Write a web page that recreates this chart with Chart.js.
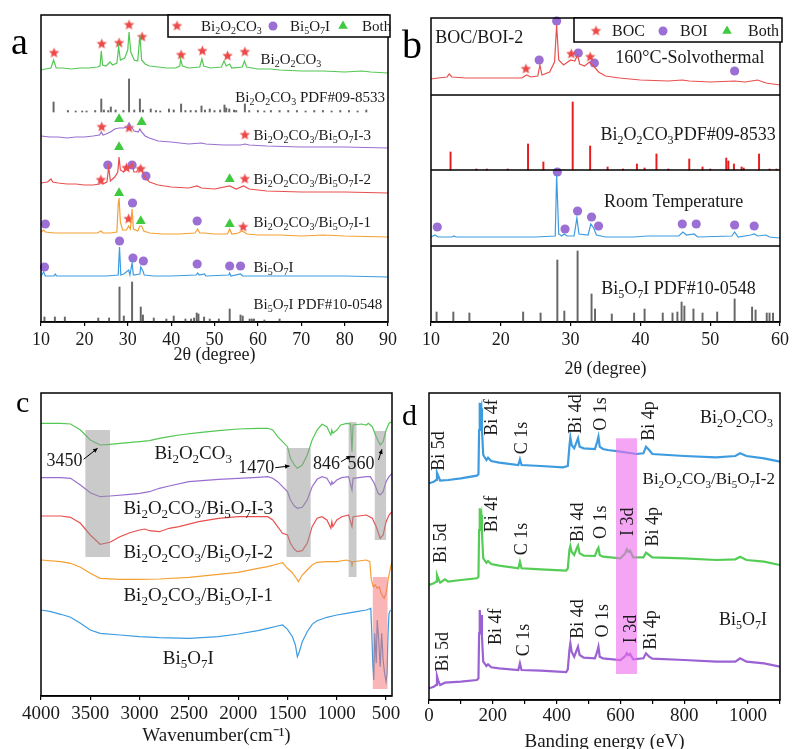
<!DOCTYPE html>
<html>
<head>
<meta charset="utf-8">
<title>Bi2O2CO3 / Bi5O7I characterisation</title>
<script src="https://cdn.jsdelivr.net/npm/chart.js@4.4.1/dist/chart.umd.min.js"></script>
<style>
  body { margin: 0; width: 792px; height: 749px; overflow: hidden; background: #fff; position: relative; }
  canvas { position: absolute; }
</style>
</head>
<body>
<canvas id="chart-a" width="400" height="380" style="left:0;top:0"></canvas>
<canvas id="chart-b" width="392" height="380" style="left:400px;top:0"></canvas>
<canvas id="chart-c" width="400" height="380" style="left:0;top:380px"></canvas>
<canvas id="chart-d" width="392" height="380" style="left:400px;top:380px"></canvas>
<script>
const SERIF = '"Liberation Serif", "Times New Roman", serif';

// ---------- (a) XRD of the series, stacked offsets ----------
const xrdBOC = [[10,252],[11,253],[12.3,254],[12.9,262],[13.5,254],[15,254],[17,253],[19,254],[21,254],[23,255],[23.6,256],[23.9,271],[24.2,257],[25,256],[25.9,260],[26.5,257],[27.5,259],[27.9,275],[28.3,262],[29.3,264],[30.0,272],[30.3,290],[30.7,270],[31.5,262],[32.3,261],[32.8,287],[33.2,262],[34,258],[35,256],[37,255],[39,254],[41,254],[42,256],[42.2,263],[42.6,256],[44,254],[46.6,255],[47.1,263],[47.5,256],[49,254],[51.6,255],[52.2,261],[52.7,256],[53.5,258],[54,254],[56.4,255],[56.9,261],[57.4,255],[60,253],[63,253],[65,252],[70,251],[75,251],[80,250],[84,251],[86,250],[90,249]];
const pdfBOC_A = [[12.9,10],[16.2,1.5],[18,1],[19.5,1],[20.5,1],[22.5,1.5],[23.9,13],[24.5,2],[25.5,1.5],[26.1,5],[27.2,2],[29,1.5],[30.3,33],[31.5,2],[32.8,13],[33.5,2],[35.3,3],[36.5,1.5],[37.5,1],[39.5,3],[40.6,2],[42.3,8],[43.3,1.5],[44.5,1.5],[45.7,1.5],[47.0,6],[47.8,2],[48.9,3],[50,1.5],[51.3,2],[52.3,7],[52.7,4],[53.4,3],[54.5,2],[55,1.5],[57.0,8],[58,1.5],[60,1.5],[61.5,1],[63,1.5],[65,1.5],[67,1.5],[69,1.5],[71,1],[73,1.5],[75,1.5],[77,1],[79,1.5],[81,1.5],[83,1],[85,2]];
const xrdBB3 = [[10,186],[12,185],[14,185],[16,184],[18,185],[20,185],[22,186],[23.5,187],[23.9,190],[24.3,187],[25,188],[26,190],[27,193],[28,194],[29,194],[29.8,195],[30.3,199],[30.8,195],[31.5,191],[32.4,190],[32.8,193],[33.2,190],[34,186],[35,184],[37,181],[40,180],[44,178],[47,179],[48,178],[52,177],[56,177],[57,178],[58,177],[62,176],[70,175],[80,175],[90,174]];
const xrdBB2 = [[10,139],[11.5,140],[12.3,143],[12.7,140],[14,139],[16,138],[18,138],[20,137],[22,137],[23.5,138],[23.8,140],[24.2,138],[25.2,140],[25.6,155],[26,141],[27,145],[27.7,150],[28.0,165],[28.3,152],[29,150],[29.8,154],[30.4,154],[31.0,159],[31.4,150],[32.0,150],[32.7,155],[33.3,151],[34,144],[35,140],[37,137],[40,135],[44,134],[46,136],[47,134],[50,133],[53.5,136],[55,133],[56.7,136],[58,133],[62,131],[70,130],[80,130],[90,129]];
const xrdBB1 = [[10,90],[10.6,92],[11,90],[13,89],[16,89],[20,89],[23,89],[23.8,91],[24.3,89],[26,89],[27.5,90],[27.8,118],[28.0,124],[28.3,100],[28.8,92],[29.7,92],[30.2,96],[30.6,93],[31.0,113],[31.3,93],[32.3,91],[32.8,96],[33.2,96],[33.7,91],[35,89],[38,88],[42,88],[45.5,89],[46.1,93],[46.6,89],[47.6,89],[50,88],[53,88],[53.5,93],[54,88],[55.5,89],[56.4,91],[57.5,88],[60,87],[65,87],[70,86],[75,87],[80,86],[90,85]];
const xrdBOI = [[10,46],[10.6,50],[11,46],[13,46],[13.3,48],[13.6,46],[16,46],[20,46],[23,46],[25,46],[27.8,47],[28.1,75],[28.4,47],[29.1,48],[30.2,52],[30.5,47],[31.0,59],[31.3,47],[32.8,48],[33.0,55],[33.5,51],[33.8,47],[36,46],[40,46],[45.8,47],[46.1,49],[46.5,47],[47.7,48],[48,46],[53.3,47],[53.5,49],[53.8,46],[56,48],[56.5,46],[60,46],[70,46],[80,46],[90,45]];
const pdfBOI_A = [[10.8,5],[13.2,5],[15.5,5],[23.2,4],[25.7,4],[28.1,35],[29.1,6],[31.0,40],[33.0,15],[33.5,7],[36,4],[38.9,3],[40.6,6],[43.3,3],[44.6,3],[45.3,4],[45.9,9],[46.3,8],[47.6,5],[48.9,3],[51,3],[53.5,13],[56.0,7],[56.5,6],[58.1,3],[58.6,3],[59.1,3],[61.5,2],[65,3]];
const starsA = [[13,269],[24,278],[28,279],[30.3,297],[33.3,285],[42.3,267],[47.2,271],[53,266],[57,270],[24,195],[30.3,194],[57,187],[23.8,142],[29.7,154],[33,153],[57,143],[30.2,103],[56.6,95]];
const circlesA = [[25.4,157],[31,157],[34.2,146],[11,98],[31.1,119],[46,101],[10.8,55],[28.1,81],[31.2,64],[33.6,61],[46,58],[53.5,56],[56,56]];
const trianglesA = [[28,203],[33.2,200],[28,175],[53.5,143],[28,129],[33,101],[53.5,98]];

// ---------- (b) solvothermal vs room temperature ----------
const xrdSolvo = [[10,243],[11,244],[12.3,245],[12.6,248],[13,245],[15,244],[17,244],[19,244],[21,244],[23,244],[23.7,247],[24.3,245],[25.3,246],[25.6,257],[25.9,247],[27,250],[27.7,260],[28.0,297],[28.3,262],[29,257],[30,262],[30.6,261],[31.0,267],[31.3,258],[32.0,256],[32.7,260],[33.3,256],[34,250],[35,246],[37,244],[40,242],[44,241],[46,242],[47,241],[50,240],[53.5,241],[55,240],[56.8,242],[58,239],[60,237]];
const pdfBOC_B = [[12.8,18],[16.5,1],[18,1],[21,1],[23.9,26],[26.1,8],[30.3,68],[32.8,24],[35.3,3],[37.5,1],[39.5,6],[40.6,2],[42.3,16],[44,1],[47.0,11],[48.9,3],[50,1],[52.3,12],[52.6,9],[53.4,6],[54.5,3],[54.8,2],[57.0,16],[58.5,1],[59.5,1]];
const xrdRoomT = [[10,85],[10.6,87],[11,85],[13,85],[13.3,86],[13.6,85],[16,85],[20,85],[23,85],[25,85],[27.8,86],[28.0,147],[28.3,88],[28.7,86],[29.1,88],[29.5,86],[30.5,86],[30.9,104],[31.2,88],[32.5,87],[32.9,98],[33.3,94],[33.7,87],[35,85],[39,85],[41,86],[45.5,86],[46.1,90],[46.6,87],[47.7,88],[48.2,85],[53.1,86],[53.5,90],[54,85],[55.8,87],[56.3,88],[56.8,86],[58,87],[58.5,85],[60,84]];
const pdfBOI_B = [[10.8,10],[13.2,10],[15.5,9],[23.2,10],[25.7,9],[28.1,62],[29.1,11],[31.0,71],[33.0,28],[33.5,13],[35.9,8],[39.1,9],[40.6,13],[43.2,9],[44.6,9],[45.3,10],[45.9,20],[46.3,16],[47.6,13],[48.9,9],[51,10],[53.5,23],[56.0,15],[56.5,12],[58.1,9],[58.5,9],[59,9]];
const starsB = [[23.6,253],[30.1,268],[32.8,265]];
const circlesB = [[25.5,262],[28,301],[31.1,269],[33.4,259],[53.5,251],[10.9,95],[28.1,150],[29.2,93],[31,111],[33,105],[34,96],[46,98],[48,98],[53.5,97],[56.3,96]];

// ---------- (c) FTIR ----------
const irBOC = [[4000,272.7],[3800,272.7],[3700,272],[3600,266],[3500,256],[3400,251],[3300,251.7],[3200,252.7],[3000,254.3],[2900,255.3],[2800,257.7],[2700,259.3],[2600,261],[2400,263.3],[2200,265.3],[2000,267],[1800,267.7],[1700,267.7],[1650,266],[1600,259.3],[1550,254.3],[1500,249.3],[1470,237.7],[1430,231],[1400,227.7],[1350,231],[1300,241],[1250,256],[1200,266],[1150,271.7],[1100,269.3],[1070,262.7],[1060,261],[1050,266],[1040,262.7],[1000,266],[960,271],[900,272.7],[860,272],[846,244.3],[835,271],[750,272],[700,271],[680,272.7],[640,269.3],[600,259.3],[560,251],[530,254.3],[500,266],[470,272.7],[440,274.3]];
const irBB3 = [[4000,218.3],[3800,218.3],[3700,217.7],[3600,211],[3500,203.3],[3400,199.3],[3300,200],[3100,201.7],[3000,202.7],[2900,204.3],[2800,207.7],[2700,210],[2500,214.3],[2200,216.7],[2000,217.7],[1800,218.7],[1700,219.3],[1650,217.7],[1600,214.3],[1550,209.3],[1500,204.3],[1470,196],[1430,190],[1400,187.7],[1350,188.7],[1300,196],[1250,209.3],[1200,216.7],[1150,219.3],[1100,217.7],[1060,211],[1050,214.3],[1040,212],[1000,216],[950,218.3],[880,219.3],[846,206],[835,217.7],[700,219.3],[660,219.3],[620,212.7],[580,202.7],[560,201],[530,204.3],[500,214.3],[470,219.3],[440,222.7]];
const irBB2 = [[4000,180],[3800,180],[3700,178.7],[3600,172.7],[3500,161],[3400,151.7],[3300,153.7],[3200,159.3],[3100,163.3],[3000,166],[2950,167],[2900,165.3],[2800,164.3],[2700,167.7],[2600,169.3],[2400,174.3],[2200,177.7],[2000,179.3],[1700,179.3],[1650,176],[1600,169.3],[1550,162.7],[1500,161],[1470,152.7],[1430,146.7],[1400,144.3],[1350,145.3],[1300,152.7],[1250,169.3],[1200,177.7],[1150,179.3],[1100,176],[1060,167.7],[1050,174.3],[1040,169.3],[1000,176],[950,179.3],[880,181],[846,169.3],[835,179.3],[700,181],[640,177.7],[600,169.3],[560,157.7],[530,161],[500,174.3],[470,181],[440,184.3]];
const irBB1 = [[4000,136],[3800,134.3],[3700,132.7],[3600,128.7],[3500,122.7],[3400,117.7],[3200,116.7],[3000,116.7],[2800,117],[2500,118.7],[2200,121.7],[2000,123.7],[1800,127.7],[1700,129.3],[1600,132],[1550,133.3],[1500,127.7],[1450,123.3],[1400,116],[1390,114.3],[1350,121],[1300,126],[1250,131],[1200,133.7],[1100,134.3],[1000,134.3],[900,136],[850,134.3],[846,129.3],[840,134.3],[700,136],[665,134.3],[650,116],[630,109.3],[610,111],[590,107.7],[570,109.3],[550,102.7],[520,97.7],[500,102.7],[480,116],[460,126],[440,134.3]];
const irBOI = [[4000,86],[3900,84.3],[3800,81.7],[3700,78.7],[3600,72.7],[3500,66],[3400,62.7],[3200,61],[3000,59.3],[2800,58.3],[2500,57.7],[2200,59.3],[2000,62],[1800,65.3],[1700,67.7],[1600,70],[1550,71],[1500,66.7],[1450,59.3],[1420,51],[1400,39.3],[1380,44.3],[1350,54.3],[1300,64.3],[1250,71.7],[1200,75.3],[1100,78.7],[1000,81],[900,82.7],[800,84.3],[700,86],[655,87.7],[645,62.7],[635,32.7],[625,16],[615,62.7],[600,32.7],[590,76],[575,56],[560,29.3],[545,62.7],[530,36],[515,22.7],[500,14.3],[490,22.7],[480,62.7],[470,82.7],[455,86]];

// ---------- (d) XPS survey ----------
const xpsBOC = [[0,216.7],[15,218.3],[22,220],[25,227.3],[30,223.3],[35,219.3],[60,220],[100,221.7],[150,224.3],[155,225.7],[157,270],[159,297.3],[161,286.7],[164,291.7],[166,270],[170,245],[180,240],[185,242.3],[195,239],[220,237.3],[280,235],[285,240.7],[290,235],[350,234],[420,232.7],[435,234],[440,253.3],[443,262.7],[447,255],[455,251.7],[463,258.3],[467,261.7],[472,253.3],[485,251.7],[520,251],[527,258.3],[531,263.3],[535,253.3],[545,251],[560,250],[600,248.3],[650,246],[672,246.7],[680,253.3],[690,250],[700,246],[800,244],[900,242.7],[960,244],[975,246.7],[995,244],[1050,241.7],[1100,238.3]];
const xpsBB2 = [[0,115],[15,116.7],[22,118.3],[25,125],[30,120.7],[35,117.3],[50,120.7],[60,118.3],[100,120],[150,121.7],[155,123.3],[157,170],[159,191.7],[161,180],[164,185],[166,166.7],[170,141.7],[180,137.3],[185,139],[195,136],[220,134.3],[280,131.7],[285,138.3],[290,131.7],[350,130.7],[430,129.3],[435,131.7],[440,150],[443,154],[447,148.3],[455,145],[463,151.7],[467,154.3],[472,146.7],[485,144.3],[520,144],[527,150],[531,152.3],[535,145],[545,143.3],[600,141.7],[615,146.7],[620,150.7],[625,148.3],[630,149.3],[640,142.7],[672,142.7],[680,147.3],[690,145],[700,142.7],[800,141.7],[900,140],[960,140.7],[975,143.3],[995,140],[1050,138.3],[1100,135]];
const xpsBOI = [[0,11.7],[15,13.3],[22,15],[25,24],[30,18.3],[35,15],[50,17.3],[100,18.3],[150,20],[155,21.7],[157,66.7],[159,90],[161,76.7],[164,85],[166,63.3],[170,38.3],[180,34],[185,35.7],[195,32.7],[220,31.7],[280,30],[285,36.7],[290,30],[350,29.3],[430,28],[435,30.7],[440,50],[443,56.7],[447,48.3],[455,43.3],[463,50],[467,53.3],[472,45],[485,42.3],[520,41.7],[527,48.3],[531,53.3],[535,43.3],[545,41.7],[600,40],[615,44],[620,46.7],[625,44.7],[630,46],[640,40.7],[672,41.7],[680,46.7],[690,43.3],[700,41.3],[800,40],[900,38.3],[960,38.3],[975,41.7],[995,38.3],[1050,36.7],[1100,33.3]];

const C = {
  green: '#54c854', purple: '#9a6fd0', red: '#e8504f', orange: '#f5a033', blue: '#3d9be0',
  stick: '#666666', stickRed: '#e81c1c', star: '#ec4a4a', dot: '#9b6fd4', tri: '#3fc93f', ink: '#1a1a1a'
};

Chart.defaults.font.family = SERIF;

// filled five-point star used as a point style
function starImage(color, r) {
  const c = document.createElement('canvas');
  const s = Math.ceil(r * 2 + 2);
  c.width = c.height = s;
  const g = c.getContext('2d');
  g.fillStyle = color;
  g.beginPath();
  for (let i = 0; i < 10; i++) {
    const rad = i % 2 ? r * 0.45 : r;
    const a = -Math.PI / 2 + i * Math.PI / 5;
    g.lineTo(s / 2 + rad * Math.cos(a), s / 2 + rad * Math.sin(a));
  }
  g.closePath();
  g.fill();
  return c;
}
const STAR = starImage(C.star, 5.5);

const pts = arr => arr.map(([x, y]) => ({ x, y }));
const sticks = (arr, base) => arr.map(([x, h]) => ({ x, y: [base, base + h] }));

function lineSet(data, color, width) {
  return { type: 'line', data: pts(data), borderColor: color, borderWidth: width || 1.2,
           pointRadius: 0, tension: 0, fill: false };
}
function stickSet(data, base, color) {
  return { type: 'bar', data: sticks(data, base), backgroundColor: color,
           barThickness: 1.3, grouped: false };
}
function markerSet(data, kind) {
  const ds = { type: 'scatter', data: pts(data), clip: false, borderWidth: 0 };
  if (kind === 'star') Object.assign(ds, { pointStyle: STAR, pointRadius: 5.5 });
  if (kind === 'circle') Object.assign(ds, { pointStyle: 'circle', pointRadius: 4.6, backgroundColor: C.dot });
  if (kind === 'triangle') Object.assign(ds, { pointStyle: 'triangle', pointRadius: 5.8, backgroundColor: C.tri });
  return ds;
}

// text with _x subscripts and ^x superscripts, y is the middle of the capitals
function drawRich(ctx, str, x, y, size, align) {
  const parts = [];
  for (let i = 0; i < str.length; i++) {
    const ch = str[i];
    if ((ch === '_' || ch === '^') && i + 1 < str.length) { parts.push({ t: str[i + 1], k: ch }); i++; }
    else if (parts.length && !parts[parts.length - 1].k) parts[parts.length - 1].t += ch;
    else parts.push({ t: ch, k: '' });
  }
  const small = Math.round(size * 0.66);
  ctx.save();
  ctx.fillStyle = C.ink;
  ctx.textBaseline = 'alphabetic';
  ctx.textAlign = 'left';
  let w = 0;
  parts.forEach(p => { ctx.font = `${p.k ? small : size}px ${SERIF}`; p.w = ctx.measureText(p.t).width; w += p.w; });
  let cx = align === 'center' ? x - w / 2 : align === 'right' ? x - w : x;
  const base = y + size * 0.33;
  parts.forEach(p => {
    ctx.font = `${p.k ? small : size}px ${SERIF}`;
    const dy = p.k === '_' ? size * 0.22 : p.k === '^' ? -size * 0.38 : 0;
    ctx.fillText(p.t, cx, base + dy);
    cx += p.w;
  });
  ctx.restore();
}

function decor(spec) {
  return {
    id: 'decor',
    afterDraw(chart) {
      const ctx = chart.ctx, a = chart.chartArea;
      const X = v => chart.scales.x.getPixelForValue(v);
      const Y = v => chart.scales.y.getPixelForValue(v);
      ctx.save();
      (spec.rects || []).forEach(r => {
        ctx.fillStyle = r.color;
        const x1 = X(r.x0), x2 = X(r.x1), y1 = Y(r.y1), y2 = Y(r.y0);
        ctx.fillRect(Math.min(x1, x2), y1, Math.abs(x2 - x1), y2 - y1);
      });
      ctx.strokeStyle = '#000';
      ctx.lineWidth = 1.5;
      (spec.separators || []).forEach(v => {
        ctx.beginPath(); ctx.moveTo(a.left, Y(v)); ctx.lineTo(a.right, Y(v)); ctx.stroke();
      });
      ctx.strokeRect(a.left, a.top, a.right - a.left, a.bottom - a.top);
      ctx.lineWidth = 1;
      ctx.fillStyle = '#000';
      (spec.arrows || []).forEach(([x0, y0, x1, y1]) => {
        const ax = X(x0), ay = Y(y0), bx = X(x1), by = Y(y1);
        const ang = Math.atan2(by - ay, bx - ax);
        ctx.beginPath(); ctx.moveTo(ax, ay); ctx.lineTo(bx, by); ctx.stroke();
        ctx.beginPath();
        ctx.moveTo(bx, by);
        ctx.lineTo(bx - 5 * Math.cos(ang - 0.45), by - 5 * Math.sin(ang - 0.45));
        ctx.lineTo(bx - 5 * Math.cos(ang + 0.45), by - 5 * Math.sin(ang + 0.45));
        ctx.closePath(); ctx.fill();
      });
      (spec.texts || []).forEach(t => {
        if (t.rot) {
          ctx.save();
          ctx.translate(X(t.x), Y(t.y));
          ctx.rotate(-Math.PI / 2);
          drawRich(ctx, t.s, 0, 0, t.size || spec.size, 'center');
          ctx.restore();
        } else {
          drawRich(ctx, t.s, X(t.x), Y(t.y), t.size || spec.size, t.align || 'left');
        }
      });
      if (spec.legend) {
        const L = spec.legend;
        ctx.fillStyle = '#fff';
        ctx.fillRect(L.box[0], L.box[1], L.box[2] - L.box[0], L.box[3] - L.box[1]);
        ctx.strokeStyle = '#000';
        ctx.lineWidth = 1.5;
        ctx.strokeRect(L.box[0], L.box[1], L.box[2] - L.box[0], L.box[3] - L.box[1]);
        L.items.forEach(it => {
          const style = it.mark === 'star' ? STAR : it.mark;
          ctx.fillStyle = it.mark === 'circle' ? C.dot : C.tri;
          Chart.helpers.drawPoint(ctx, { pointStyle: style, radius: it.mark === 'triangle' ? 5.5 : 4.5, rotation: 0, borderWidth: 0 }, it.x, L.y);
          drawRich(ctx, it.s, it.tx, L.y, L.size, 'left');
        });
      }
      if (spec.letter) {
        ctx.fillStyle = '#000';
        ctx.font = `${spec.letter.size}px ${SERIF}`;
        ctx.textBaseline = 'alphabetic';
        ctx.textAlign = 'left';
        ctx.fillText(spec.letter.t, spec.letter.x, spec.letter.y);
      }
      ctx.restore();
    }
  };
}

function options(o) {
  return {
    responsive: false,
    animation: false,
    events: [],
    layout: { padding: o.padding },
    plugins: { legend: { display: false }, tooltip: { enabled: false } },
    scales: {
      x: {
        type: 'linear', min: o.xmin, max: o.xmax, reverse: !!o.reverse, offset: false,
        afterFit: s => { s.height = o.axisH; },
        // ticks on whole multiples of the step, whatever the axis limits are
        afterBuildTicks: s => {
          const list = [];
          for (let v = Math.ceil(o.xmin / o.step) * o.step; v <= o.xmax; v += o.step) list.push({ value: v });
          s.ticks = list;
        },
        ticks: {
          autoSkip: false, maxRotation: 0, padding: o.tickPad, color: C.ink,
          font: { family: SERIF, size: o.tickSize },
          callback: v => (v % o.labelStep === 0 ? String(v) : '')
        },
        grid: { drawOnChartArea: false, drawTicks: true, tickLength: 4, color: '#000', lineWidth: 1.2, offset: false },
        border: { display: true, color: '#000', width: 1.5 },
        title: { display: true, text: o.title, color: C.ink, font: { family: SERIF, size: o.titleSize },
                 padding: { top: 0, bottom: o.titlePad } }
      },
      y: { display: false, min: o.ymin, max: o.ymax }
    }
  };
}

// (a)
new Chart(document.getElementById('chart-a'), {
  type: 'line',
  data: { datasets: [
    lineSet(xrdBOC, C.green), stickSet(pdfBOC_A, 210, C.stick), lineSet(xrdBB3, C.purple),
    lineSet(xrdBB2, C.red), lineSet(xrdBB1, C.orange), lineSet(xrdBOI, C.blue), stickSet(pdfBOI_A, 0, C.stick),
    markerSet(starsA, 'star'), markerSet(circlesA, 'circle'), markerSet(trianglesA, 'triangle')
  ] },
  options: options({ padding: { left: 41, right: 10, top: 15, bottom: 0 }, xmin: 10, xmax: 90, step: 10, labelStep: 10,
    ymin: 0, ymax: 307, axisH: 58, tickPad: 3, tickSize: 18, title: '2θ (degree)', titleSize: 18, titlePad: 14 }),
  plugins: [decor({
    size: 15,
    texts: [
      { x: 60.6, y: 263, s: 'Bi_2O_2CO_3' },
      { x: 54.8, y: 225, s: 'Bi_2O_2CO_3 PDF#09-8533' },
      { x: 59, y: 187, s: 'Bi_2O_2CO_3/Bi_5O_7I-3' },
      { x: 59, y: 143, s: 'Bi_2O_2CO_3/Bi_5O_7I-2' },
      { x: 59, y: 100, s: 'Bi_2O_2CO_3/Bi_5O_7I-1' },
      { x: 59, y: 55, s: 'Bi_5O_7I' },
      { x: 59, y: 18, s: 'Bi_5O_7I PDF#10-0548' }
    ],
    legend: { box: [168, 15, 390, 37], y: 26, size: 15, items: [
      { mark: 'star', x: 177, tx: 201, s: 'Bi_2O_2CO_3' },
      { mark: 'circle', x: 273, tx: 290, s: 'Bi_5O_7I' },
      { mark: 'triangle', x: 343, tx: 362, s: 'Both' }
    ] },
    letter: { t: 'a', x: 11, y: 54, size: 38 }
  })]
});

// (b)
new Chart(document.getElementById('chart-b'), {
  type: 'line',
  data: { datasets: [
    lineSet(xrdSolvo, C.red), stickSet(pdfBOC_B, 152, C.stickRed), lineSet(xrdRoomT, C.blue),
    stickSet(pdfBOI_B, 0, C.stick), markerSet(starsB, 'star'), markerSet(circlesB, 'circle')
  ] },
  options: options({ padding: { left: 31, right: 10, top: 18, bottom: 0 }, xmin: 10, xmax: 60, step: 10, labelStep: 10,
    ymin: 0, ymax: 304, axisH: 58, tickPad: 3, tickSize: 18, title: '2θ (degree)', titleSize: 18, titlePad: 0 }),
  plugins: [decor({
    size: 18,
    separators: [227, 152, 76],
    texts: [
      { x: 10.6, y: 284.7, s: 'BOC/BOI-2' },
      { x: 36.4, y: 264.7, s: '160°C-Solvothermal' },
      { x: 34.3, y: 187.7, s: 'Bi_2O_2CO_3PDF#09-8533' },
      { x: 34.8, y: 121.3, s: 'Room Temperature' },
      { x: 34.4, y: 33.7, s: 'Bi_5O_7I PDF#10-0548' }
    ],
    legend: { box: [174, 18, 382, 42], y: 31, size: 16, items: [
      { mark: 'star', x: 196, tx: 212, s: 'BOC' },
      { mark: 'circle', x: 263, tx: 280, s: 'BOI' },
      { mark: 'triangle', x: 327, tx: 348, s: 'Both' }
    ] },
    letter: { t: 'b', x: 2, y: 58, size: 40 }
  })]
});

// (c)
new Chart(document.getElementById('chart-c'), {
  type: 'line',
  data: { datasets: [
    lineSet(irBOC, C.green), lineSet(irBB3, C.purple), lineSet(irBB2, C.red),
    lineSet(irBB1, C.orange), lineSet(irBOI, C.blue)
  ] },
  options: options({ padding: { left: 41, right: 8, top: 13, bottom: 0 }, xmin: 440, xmax: 4000, reverse: true,
    step: 500, labelStep: 500, ymin: 0, ymax: 303, axisH: 64, tickPad: 3, tickSize: 19,
    title: 'Wavenumber(cm⁻¹)', titleSize: 19, titlePad: 13 }),
  plugins: [decor({
    size: 19,
    rects: [
      { x0: 3550, x1: 3300, y0: 139, y1: 266, color: 'rgba(150,150,150,0.5)' },
      { x0: 1510, x1: 1265, y0: 139, y1: 248, color: 'rgba(150,150,150,0.5)' },
      { x0: 880, x1: 800, y0: 119, y1: 274, color: 'rgba(150,150,150,0.5)' },
      { x0: 615, x1: 500, y0: 156, y1: 265, color: 'rgba(150,150,150,0.5)' },
      { x0: 635, x1: 485, y0: 7, y1: 119, color: 'rgba(245,110,110,0.5)' }
    ],
    arrows: [[3568, 236.7, 3426, 247.7], [1624, 228.3, 1479, 230], [958, 234.3, 857, 240], [577, 236, 542, 246.7]],
    texts: [
      { x: 2456, y: 243, s: 'Bi_2O_2CO_3', align: 'center' },
      { x: 2405, y: 188, s: 'Bi_2O_2CO_3/Bi_5O_7I-3', align: 'center' },
      { x: 2405, y: 144, s: 'Bi_2O_2CO_3/Bi_5O_7I-2', align: 'center' },
      { x: 2405, y: 101, s: 'Bi_2O_2CO_3/Bi_5O_7I-1', align: 'center' },
      { x: 2506, y: 38, s: 'Bi_5O_7I', align: 'center' },
      { x: 3762, y: 236, s: '3450', align: 'center', size: 18 },
      { x: 1817, y: 228.7, s: '1470', align: 'center', size: 18 },
      { x: 1104, y: 233.3, s: '846', align: 'center', size: 18 },
      { x: 754, y: 233.3, s: '560', align: 'center', size: 18 }
    ],
    letter: { t: 'c', x: 16, y: 32, size: 30 }
  })]
});

// (d)
new Chart(document.getElementById('chart-d'), {
  type: 'line',
  data: { datasets: [
    lineSet(xpsBOC, C.blue, 2.2), lineSet(xpsBB2, '#55cc55', 2.2), lineSet(xpsBOI, '#9b62d4', 2.2)
  ] },
  options: options({ padding: { left: 29, right: 12, top: 13, bottom: 0 }, xmin: 0, xmax: 1100,
    step: 100, labelStep: 200, ymin: 0, ymax: 307, axisH: 60, tickPad: 1, tickSize: 19,
    title: 'Banding energy (eV)', titleSize: 19, titlePad: 7 }),
  plugins: [decor({
    size: 18,
    rects: [{ x0: 586, x1: 652, y0: 26, y1: 261.7, color: 'rgba(238,110,238,0.62)' }],
    texts: [
      { x: 29, y: 249, s: 'Bi 5d', rot: true }, { x: 196, y: 282.5, s: 'Bi 4f', rot: true },
      { x: 287, y: 262, s: 'C 1s', rot: true }, { x: 457.5, y: 286, s: 'Bi 4d', rot: true },
      { x: 536, y: 286, s: 'O 1s', rot: true }, { x: 688, y: 279, s: 'Bi 4p', rot: true },
      { x: 34.5, y: 156.7, s: 'Bi 5d', rot: true }, { x: 196, y: 186, s: 'Bi 4f', rot: true },
      { x: 290, y: 161, s: 'C 1s', rot: true }, { x: 463, y: 177.7, s: 'Bi 4d', rot: true },
      { x: 536, y: 177.7, s: 'O 1s', rot: true }, { x: 619.5, y: 178.3, s: 'I 3d', rot: true },
      { x: 698, y: 173.3, s: 'Bi 4p', rot: true },
      { x: 40, y: 48.3, s: 'Bi 5d', rot: true }, { x: 207, y: 73.3, s: 'Bi 4f', rot: true },
      { x: 296, y: 60, s: 'C 1s', rot: true }, { x: 463, y: 81, s: 'Bi 4d', rot: true },
      { x: 541, y: 79.3, s: 'O 1s', rot: true }, { x: 630, y: 71, s: 'I 3d', rot: true },
      { x: 692.5, y: 70, s: 'Bi 4p', rot: true },
      { x: 1078, y: 283.3, s: 'Bi_2O_2CO_3', align: 'right' },
      { x: 1084, y: 221.7, s: 'Bi_2O_2CO_3/Bi_5O_7I-2', align: 'right', size: 17 },
      { x: 1059, y: 80.7, s: 'Bi_5O_7I', align: 'right' }
    ],
    letter: { t: 'd', x: 2, y: 45, size: 30 }
  })]
});
</script>
</body>
</html>
